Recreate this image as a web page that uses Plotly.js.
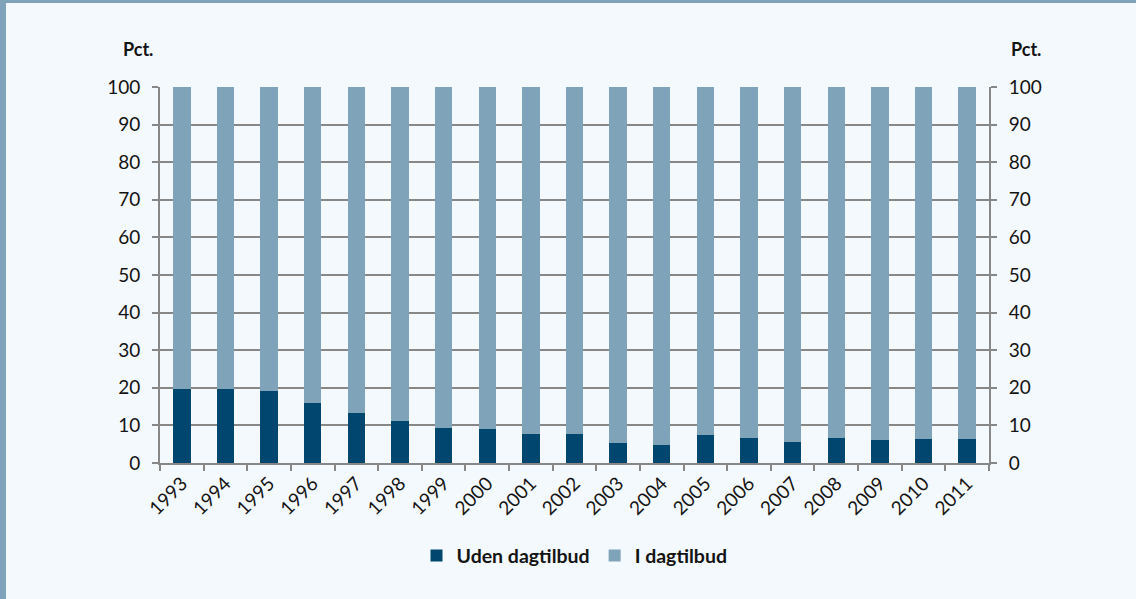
<!DOCTYPE html>
<html>
<head>
<meta charset="utf-8">
<script src="https://cdn.plot.ly/plotly-3.0.1.min.js"></script>
<style>
  html, body { margin: 0; padding: 0; background: #f4f9fe; }
  #frame { position: absolute; left: 0; top: 0; width: 1136px; height: 599px; box-sizing: border-box;
           border-left: 6px solid #7fa3b8; border-top: 3px solid #7fa3b8; }
  #graph { position: absolute; left: 0; top: 0; width: 1136px; height: 599px; }
</style>
</head>
<body>
<div id="frame"></div>
<div id="graph"></div>
<script>
// Aar og andele (pct.)
var years = ['1993', '1994', '1995', '1996', '1997', '1998', '1999', '2000', '2001', '2002',
             '2003', '2004', '2005', '2006', '2007', '2008', '2009', '2010', '2011'];
var udenDagtilbud = [19.7, 19.7, 19.1, 16.0, 13.3, 11.2, 9.4, 9.0, 7.8, 7.8,
                     5.3, 4.9, 7.4, 6.6, 5.7, 6.7, 6.2, 6.4, 6.4];
var iDagtilbud = [80.3, 80.3, 80.9, 84.0, 86.7, 88.8, 90.6, 91.0, 92.2, 92.2,
                  94.7, 95.1, 92.6, 93.4, 94.3, 93.3, 93.8, 93.6, 93.6];
var yTicks = [0, 10, 20, 30, 40, 50, 60, 70, 80, 90, 100];

var mork = '#00466e';
var lys = '#7fa3b8';
var gra = '#878787';
var tekst = '#141414';
var skrift = 'Lato, sans-serif';

var data = [
  {
    x: years, y: udenDagtilbud, type: 'bar', name: 'Uden dagtilbud',
    marker: { color: mork }
  },
  {
    x: years, y: iDagtilbud, type: 'bar', name: 'I dagtilbud',
    marker: { color: lys }
  },
  {
    // usynlig serie saa hoejre akse tegnes
    x: years, y: udenDagtilbud, type: 'scatter', mode: 'markers', yaxis: 'y2',
    marker: { opacity: 0 }, showlegend: false, hoverinfo: 'skip'
  }
];

var yAxisBase = {
  range: [0, 100],
  tickvals: yTicks,
  showline: true, linecolor: gra, linewidth: 2,
  ticks: 'outside', ticklen: 6, tickcolor: gra, tickwidth: 2,
  tickfont: { family: skrift, size: 19, color: tekst },
  ticklabelstandoff: 8,
  fixedrange: true
};

var layout = {
  width: 1136, height: 599,
  paper_bgcolor: 'rgba(0,0,0,0)',
  plot_bgcolor: 'rgba(0,0,0,0)',
  margin: { l: 160, r: 147, t: 87, b: 136 },
  barmode: 'stack',
  bargap: 0.6,
  xaxis: {
    type: 'category',
    range: [-0.5, years.length - 0.5],
    tickangle: -45,
    ticks: 'outside', tickson: 'boundaries', ticklen: 6, tickcolor: gra, tickwidth: 2,
    showline: true, linecolor: gra, linewidth: 2,
    tickfont: { family: skrift, size: 19, color: tekst }
  },
  yaxis: Object.assign({}, yAxisBase, {
    showgrid: true, gridcolor: gra, gridwidth: 2, zeroline: false
  }),
  yaxis2: Object.assign({}, yAxisBase, {
    overlaying: 'y', side: 'right', showgrid: false, zeroline: false
  }),
  showlegend: true,
  legend: {
    orientation: 'h', x: 0.5, xanchor: 'center', y: -0.247, yanchor: 'middle',
    font: { family: skrift, size: 19.5, color: tekst, weight: 'bold' },
    itemwidth: 30, traceorder: 'normal'
  },
  annotations: [
    { text: '<b>Pct.</b>', xref: 'paper', yref: 'paper', x: -0.026, y: 1.1, xanchor: 'center',
      yanchor: 'middle', showarrow: false, font: { family: skrift, size: 18, color: tekst } },
    { text: '<b>Pct.</b>', xref: 'paper', yref: 'paper', x: 1.045, y: 1.1, xanchor: 'center',
      yanchor: 'middle', showarrow: false, font: { family: skrift, size: 18, color: tekst } }
  ]
};

Plotly.newPlot('graph', data, layout, { displayModeBar: false, staticPlot: true });
</script>
</body>
</html>
